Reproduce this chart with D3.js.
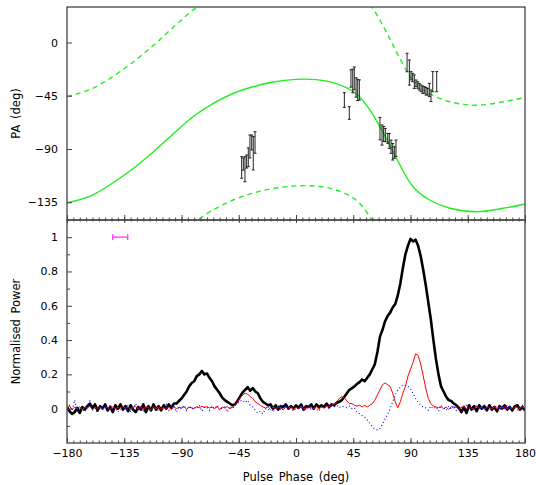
<!DOCTYPE html>
<html><head><meta charset="utf-8">
<script src="https://cdn.jsdelivr.net/npm/d3@7/dist/d3.min.js"></script>
<style>body{margin:0;background:#fff}svg{display:block}text{font-family:"DejaVu Sans",sans-serif;fill:#000}</style>
</head><body><svg id="c" width="536" height="485"></svg>
<script>
// ---------- DATA ----------
// RVM fit (solid) and the +/-90 deg orthogonal-mode curves (dashed)
const fitPhase = [-180,-160,-133,-112,-96,-81,-65,-49,-34,-18,0,16,31,47,58,66,73,81,92,105,121,142,163,180];
const fitPA    = [-135.5,-128.9,-110.5,-92.3,-76.7,-62.7,-51.4,-42.9,-37.4,-33.4,-31.2,-31.4,-34.5,-42.9,-57,-71.2,-85.2,-102.1,-121.9,-133.1,-140.1,-143,-140.1,-136.5];
const fitPAup  = [-45.5,-38.9,-20.5,-2.3,13.3,27.3,38.6,47.1,52.6,56.6,58.8,58.6,55.5,47.1,33,18.8,4.8,-12.1,-31.9,-43.1,-50.1,-53,-50.1,-46.5];
const fitPAlo  = [-225.5,-218.9,-200.5,-182.3,-166.7,-152.7,-141.4,-132.9,-127.4,-123.4,-121.2,-121.4,-124.5,-132.9,-147,-161.2,-175.2,-192.1,-211.9,-223.1,-230.1,-233,-230.1,-226.5];

// Measured position angles with errors
const paPhase = [-42.7,-41.4,-40.1,-38.8,-37.5,-36.2,-34.8,-33.6,-32.2,
  38.0,41.9,43.2,44.6,45.8,47.2,48.5,49.8,
  66.0,67.6,68.9,70.2,72.1,73.3,74.7,76.0,77.3,78.6,
  87.3,89.1,90.4,91.7,93.0,94.3,95.7,96.9,98.3,99.6,100.8,102.2,103.5,104.8,106.1,107.5,110.6];
const paValue = [-105.6,-102.7,-107.1,-100.6,-97,-87.9,-84.5,-93.6,-84.5,
  -48.6,-59.6,-30.4,-32.5,-30.3,-38,-40.1,-40.1,
  -72.8,-78.2,-77.3,-78.2,-81,-83.2,-88.1,-92.3,-93,-89.4,
  -16.9,-25.4,-28.1,-29.6,-33.1,-34.5,-35.9,-37.4,-38.7,-39.9,-40.1,-41.2,-41.6,-40.1,-45,-33.1,-33.1];
const paErr   = [9.1,5.1,10.6,5.5,7.9,9.7,6.3,14.1,9.1,
  6.2,5.3,7.3,10,9.6,8.2,9,8.5,
  9.5,8.5,6.3,5.6,4.2,6.3,5.6,7,4.9,7,
  7.8,10.6,3.5,3.5,5.7,2.8,2.8,2.8,2.8,3.1,2.8,3.2,2.8,5.6,4.9,8.5,8.5];

// Profile: phase grid (2 deg bins) and normalised total (I), linear (L), circular (V)
const profPhase = d3.range(-180, 181, 2);
const totalI = [0.01,-0.015,-0.03,-0.02,0.005,-0.025,0.01,-0.005,0.015,0.03,0.005,0.025,-0.01,0.015,0.0,0.025,-0.01,0.01,-0.02,0.02,
  0.0,0.025,-0.005,0.015,-0.015,0.02,-0.005,-0.02,0.01,-0.005,0.025,-0.02,0.015,-0.01,0.025,-0.005,0.015,-0.01,0.02,0.0,
  0.025,0.005,0.03,0.03,0.045,0.06,0.08,0.1,0.13,0.15,0.16,0.19,0.2,0.22,0.2,0.205,0.18,0.16,0.13,0.11,
  0.09,0.065,0.05,0.04,0.03,0.02,0.025,0.045,0.07,0.095,0.11,0.125,0.105,0.12,0.1,0.09,0.06,0.04,0.03,0.02,
  0.025,0.0,0.02,-0.005,0.015,0.01,0.025,0.0,0.015,0.0,0.02,0.005,0.025,-0.005,0.015,0.01,0.025,0.0,0.025,0.01,
  0.02,0.01,0.03,0.01,0.025,0.02,0.035,0.04,0.05,0.07,0.09,0.11,0.12,0.13,0.145,0.155,0.17,0.16,0.18,0.2,
  0.23,0.26,0.33,0.42,0.46,0.51,0.54,0.56,0.59,0.61,0.66,0.73,0.82,0.9,0.95,0.99,0.975,0.985,0.95,0.89,
  0.81,0.72,0.62,0.52,0.4,0.29,0.2,0.13,0.1,0.07,0.05,0.045,0.03,0.02,0.005,-0.02,0.01,-0.025,0.02,-0.005,
  0.015,-0.015,0.02,0.0,0.015,-0.01,0.02,-0.005,0.01,-0.015,0.015,0.0,0.02,-0.005,0.01,-0.01,0.015,0.02,-0.005,0.01,-0.01];
const linearL = [0.005,0.015,-0.005,0.01,0.0,0.012,-0.008,0.01,0.004,0.014,-0.006,0.008,0.0,0.012,-0.004,0.01,0.006,-0.006,0.012,0.0,
  0.008,-0.005,0.014,0.002,0.01,-0.006,0.008,0.012,0.0,0.01,-0.004,0.012,0.004,-0.006,0.01,0.0,0.012,-0.004,0.008,0.002,
  0.01,-0.006,0.012,0.0,0.008,0.004,0.012,-0.004,0.01,0.006,0.0,0.012,0.006,0.014,0.008,0.012,0.004,0.01,0.0,0.012,
  -0.004,0.01,0.004,0.012,0.0,0.008,0.02,0.04,0.06,0.08,0.09,0.085,0.07,0.06,0.04,0.03,0.02,0.01,0.004,0.012,
  -0.004,0.01,0.0,0.012,0.004,-0.006,0.01,0.002,0.012,-0.004,0.008,0.0,0.012,0.004,-0.004,0.01,0.006,0.0,0.012,-0.002,
  0.01,0.004,0.012,0.015,0.02,0.025,0.04,0.06,0.07,0.065,0.045,0.03,0.03,0.02,0.015,0.02,0.01,0.02,0.01,0.02,
  0.03,0.05,0.08,0.11,0.14,0.15,0.14,0.13,0.09,0.04,0.005,0.04,0.09,0.13,0.19,0.23,0.27,0.32,0.31,0.26,
  0.19,0.12,0.06,0.03,0.015,0.01,0.006,0.012,0.0,0.01,-0.004,0.012,0.004,0.01,-0.006,0.008,0.012,0.0,0.01,0.004,
  -0.004,0.012,0.002,0.008,-0.004,0.01,0.006,0.0,0.012,-0.002,0.01,0.004,0.014,0.0,0.008,-0.004,0.012,0.006,0.002,0.01,0.0];
const circV = [0.0,0.02,-0.01,0.05,-0.015,0.01,0.0,-0.02,0.015,0.045,-0.01,0.005,-0.025,0.02,0.0,0.01,-0.015,0.025,-0.005,0.01,
  -0.02,0.015,0.005,-0.01,0.02,-0.015,0.0,0.03,-0.01,0.01,-0.02,0.015,0.0,-0.01,0.02,0.005,-0.015,0.01,0.0,0.025,
  -0.01,0.005,0.015,-0.02,0.01,0.0,0.02,-0.01,0.015,-0.005,0.01,0.0,0.02,-0.015,0.005,0.01,-0.01,0.015,0.0,0.02,
  -0.01,0.005,0.01,-0.02,0.015,0.0,0.02,0.03,0.045,0.05,0.035,0.05,0.02,0.01,-0.01,-0.025,-0.015,-0.03,0.0,-0.01,
  0.01,-0.02,0.005,0.015,-0.01,0.0,0.02,-0.005,0.01,-0.015,0.005,0.0,0.015,-0.01,0.005,0.02,-0.01,0.01,0.0,-0.015,
  0.01,0.005,0.02,0.0,0.015,0.01,0.02,0.005,0.015,0.01,0.005,0.015,0.0,0.005,-0.02,-0.03,-0.04,-0.05,-0.065,-0.085,
  -0.105,-0.12,-0.125,-0.115,-0.09,-0.06,-0.035,0.0,0.04,0.08,0.11,0.125,0.14,0.135,0.13,0.115,0.09,0.06,0.035,0.02,
  0.01,0.005,-0.01,0.015,0.0,0.01,-0.015,0.02,0.005,-0.01,0.015,0.0,0.02,-0.01,0.01,0.005,-0.015,0.02,0.0,0.01,
  -0.01,0.015,0.005,-0.005,0.02,0.0,0.01,-0.015,0.02,0.005,-0.01,0.015,0.0,0.02,-0.005,0.01,0.015,-0.01,0.005,0.02,0.0];

// resolution bar (phase centre, half-width, level)
const resPhase = [-138.2], resHalf = [5.9], resLevel = [1.0];

// tick values
const xMajor = [-180,-135,-90,-45,0,45,90,135,180];
const xMinor = d3.range(-180, 181, 5);
const paMajor = [0,-45,-90,-135];
const powMajor = [0,0.2,0.4,0.6,0.8,1];
const powMinor = [-0.1,0.1,0.3,0.5,0.7,0.9,1.1];

// ---------- LAYOUT ----------
const L = 67, R = 525, T1 = 7, B1 = 220, T2 = 220, B2 = 443;
const svg = d3.select("#c");
const x = d3.scaleLinear().domain([-180,180]).range([L,R]);
const yPA = d3.scaleLinear().domain([-150,30]).range([B1,T1]);
const yP = d3.scaleLinear().domain([-0.2,1.1]).range([B2,T2]);

const defs = svg.append("defs");
defs.append("clipPath").attr("id","clipTop").append("rect").attr("x",L).attr("y",T1).attr("width",R-L).attr("height",B1-T1);
defs.append("clipPath").attr("id","clipBot").append("rect").attr("x",L).attr("y",T2).attr("width",R-L).attr("height",B2-T2);

const green = "#22ee22";
// ---- top panel ----
const topG = svg.append("g").attr("clip-path","url(#clipTop)");
const lineFit = (arr) => d3.line().x((d,i)=>x(fitPhase[i])).y((d)=>yPA(d)).curve(d3.curveCatmullRom.alpha(0.5))(arr);
topG.append("path").attr("d",lineFit(fitPAup)).attr("fill","none").attr("stroke",green).attr("stroke-width",1.4).attr("stroke-dasharray","5,4");
topG.append("path").attr("d",lineFit(fitPAlo)).attr("fill","none").attr("stroke",green).attr("stroke-width",1.4).attr("stroke-dasharray","5,4");
topG.append("path").attr("d",lineFit(fitPA)).attr("fill","none").attr("stroke",green).attr("stroke-width",1.4);

const eb = topG.append("g").attr("stroke","#222").attr("stroke-width",1);
paPhase.forEach((p,i)=>{
  const cx = x(p), y0 = yPA(paValue[i]-paErr[i]), y1 = yPA(paValue[i]+paErr[i]);
  eb.append("line").attr("x1",cx).attr("x2",cx).attr("y1",y0).attr("y2",y1);
  eb.append("line").attr("x1",cx-1.5).attr("x2",cx+1.5).attr("y1",y0).attr("y2",y0);
  eb.append("line").attr("x1",cx-1.5).attr("x2",cx+1.5).attr("y1",y1).attr("y2",y1);
});

// ---- bottom panel ----
const botG = svg.append("g").attr("clip-path","url(#clipBot)");
const lineP = (arr) => d3.line().x((d,i)=>x(profPhase[i])).y(d=>yP(d))(arr);
botG.append("path").attr("d",lineP(totalI)).attr("fill","none").attr("stroke","#000").attr("stroke-width",2.6).attr("stroke-linejoin","round");
botG.append("path").attr("d",lineP(linearL)).attr("fill","none").attr("stroke","#ff0000").attr("stroke-width",1);
botG.append("path").attr("d",lineP(circV)).attr("fill","none").attr("stroke","#0000ff").attr("stroke-width",1.1).attr("stroke-dasharray","1,2.5");

// resolution bar
const mag = "#ff44ff";
resPhase.forEach((p,i)=>{
  const g = svg.append("g").attr("stroke",mag).attr("stroke-width",1.4);
  const xa = x(p-resHalf[i]), xb = x(p+resHalf[i]), yy = yP(resLevel[i]);
  g.append("line").attr("x1",xa).attr("x2",xb).attr("y1",yy).attr("y2",yy);
  g.append("line").attr("x1",xa).attr("x2",xa).attr("y1",yy-3).attr("y2",yy+3);
  g.append("line").attr("x1",xb).attr("x2",xb).attr("y1",yy-3).attr("y2",yy+3);
});

// ---------- AXES ----------
const axCol = "#444";
function styleAxis(g){ g.select(".domain").remove(); g.selectAll("line").attr("stroke",axCol).attr("stroke-width",1); g.selectAll("text").attr("font-size",11).attr("font-family","DejaVu Sans, sans-serif").attr("fill","#000"); }

svg.append("g").attr("transform",`translate(0,${B1})`).call(d3.axisTop(x).tickValues(xMinor).tickSize(2.5).tickFormat("")).call(styleAxis);
svg.append("g").attr("transform",`translate(0,${B1})`).call(d3.axisTop(x).tickValues(xMajor).tickSize(5).tickFormat("")).call(styleAxis);
svg.append("g").attr("transform",`translate(0,${T2})`).call(d3.axisBottom(x).tickValues(xMinor).tickSize(1.5).tickFormat("")).call(styleAxis);
svg.append("g").attr("transform",`translate(0,${T2})`).call(d3.axisBottom(x).tickValues(xMajor).tickSize(3).tickFormat("")).call(styleAxis);
svg.append("g").attr("transform",`translate(0,${B2})`).call(d3.axisTop(x).tickValues(xMinor).tickSize(2.5).tickFormat("")).call(styleAxis);
svg.append("g").attr("transform",`translate(0,${B2})`).call(d3.axisTop(x).tickValues(xMajor).tickSize(5).tickFormat("")).call(styleAxis);
svg.append("g").attr("transform",`translate(0,${B2})`).call(d3.axisBottom(x).tickValues(xMajor).tickSize(0).tickPadding(6).tickFormat(d3.format("d"))).call(styleAxis);

svg.append("g").attr("transform",`translate(${L},0)`).call(d3.axisRight(yPA).tickValues(paMajor).tickSize(5).tickFormat("")).call(styleAxis);
svg.append("g").attr("transform",`translate(${L},0)`).call(d3.axisLeft(yPA).tickValues(paMajor).tickSize(0).tickPadding(9).tickFormat(d3.format("d"))).call(styleAxis);
svg.append("g").attr("transform",`translate(${L},0)`).call(d3.axisRight(yP).tickValues(powMajor).tickSize(5).tickFormat("")).call(styleAxis);
svg.append("g").attr("transform",`translate(${L},0)`).call(d3.axisRight(yP).tickValues(powMinor).tickSize(3).tickFormat("")).call(styleAxis);
svg.append("g").attr("transform",`translate(${L},0)`).call(d3.axisLeft(yP).tickValues(powMajor).tickSize(0).tickPadding(9).tickFormat(d3.format("~g"))).call(styleAxis);

svg.append("rect").attr("x",L).attr("y",T1).attr("width",R-L).attr("height",B1-T1).attr("fill","none").attr("stroke",axCol).attr("stroke-width",1.3);
svg.append("rect").attr("x",L).attr("y",T2).attr("width",R-L).attr("height",B2-T2).attr("fill","none").attr("stroke",axCol).attr("stroke-width",1.3);

svg.append("text").attr("transform",`translate(20,${(T1+B1)/2}) rotate(-90)`).attr("text-anchor","middle").attr("font-size",11.5).attr("word-spacing","2px").text("PA (deg)");
svg.append("text").attr("transform",`translate(20,${(T2+B2)/2}) rotate(-90)`).attr("text-anchor","middle").attr("font-size",11.5).attr("word-spacing","2px").text("Normalised Power");
svg.append("text").attr("x",x(0)).attr("y",481).attr("text-anchor","middle").attr("font-size",11.5).attr("word-spacing","2px").text("Pulse Phase (deg)");
</script></body></html>
